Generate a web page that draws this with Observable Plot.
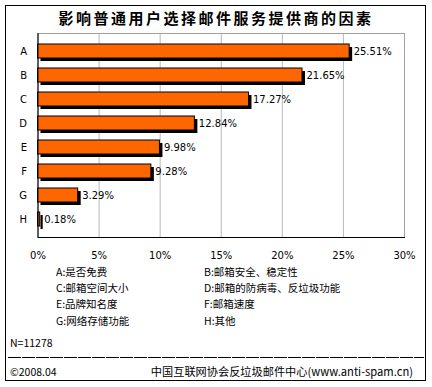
<!DOCTYPE html>
<html>
<head>
<meta charset="utf-8">
<script src="https://cdn.jsdelivr.net/npm/d3@7"></script>
<script src="https://cdn.jsdelivr.net/npm/@observablehq/plot@0.6"></script>
<style>
  html, body { margin: 0; padding: 0; background: #fff; }
  #wrap { position: relative; width: 432px; height: 387px; background: #fff; overflow: hidden;
          font-family: "DejaVu Sans", "Noto Sans CJK SC", sans-serif; color: #000; }
  #border { position: absolute; left: 5px; top: 5px; width: 419px; height: 374px; border: 1px solid #000; box-sizing: content-box; }
  #title { position: absolute; left: 0; width: 432px; top: 8px; text-align: center;
           font-family: "Noto Sans CJK SC", sans-serif; font-weight: bold; font-size: 15px; letter-spacing: 2.5px; line-height: 20px; }
  #chart { position: absolute; left: 0; top: 0; }
  .leg { position: absolute; font-family: "Noto Sans CJK SC", sans-serif; font-size: 10.5px; line-height: 14px; white-space: nowrap; }
  #sep { position: absolute; left: 8px; top: 357px; width: 416px; height: 1px;
         background: repeating-linear-gradient(to right, #000 0 13px, transparent 13px 14px); }
</style>
</head>
<body>
<div id="wrap">
  <div id="border"></div>
  <div id="chart"></div>
  <div id="title"></div>
  <div id="legend"></div>
  <div id="sep"></div>
</div>
<script>
const title = "影响普通用户选择邮件服务提供商的因素";
const categories = ["A", "B", "C", "D", "E", "F", "G", "H"];
const values = [25.51, 21.65, 17.27, 12.84, 9.98, 9.28, 3.29, 0.18];
const xTicks = [0, 5, 10, 15, 20, 25, 30];
const legendLabels = ["A:是否免费", "B:邮箱安全、稳定性", "C:邮箱空间大小", "D:邮箱的防病毒、反垃圾功能",
                      "E:品牌知名度", "F:邮箱速度", "G:网络存储功能", "H:其他"];
const sampleNote = "N=11278";
const dateNote = "©2008.04";
const sourceNote = "中国互联网协会反垃圾邮件中心(www.anti-spam.cn)";

const data = categories.map((c, i) => ({ cat: c, value: values[i], label: values[i].toFixed(2) + "%" }));

document.getElementById("title").textContent = title;

const chart = Plot.plot({
  width: 432,
  height: 262,
  marginLeft: 37.5,
  marginRight: 28,
  marginTop: 33,
  marginBottom: 25,
  style: { fontFamily: "DejaVu Sans, sans-serif", fontSize: "10px", background: "transparent", overflow: "visible" },
  x: { domain: [0, 30], ticks: xTicks, tickFormat: d => d + "%", tickSize: 0, tickPadding: 14, label: null },
  y: { domain: categories, padding: 0.4, tickSize: 0, tickPadding: 11, label: null },
  marks: [
    Plot.gridX(xTicks, { stroke: "#b8b8b8", strokeOpacity: 1 }),
    Plot.frame({ stroke: "#a0a0a0" }),
    Plot.barX(data, { x: "value", y: "cat", fill: "#000", dx: 3, dy: 3 }),
    Plot.barX(data, { x: "value", y: "cat", fill: "#ff6600", stroke: "#000", strokeWidth: 1 }),
    Plot.text(data, { x: "value", y: "cat", text: "label", textAnchor: "start", dx: 4, fill: "#000" }),
    Plot.ruleX([0], { stroke: "#000" }),
    Plot.frame({ anchor: "bottom", stroke: "#000" }),
    Plot.axisX({ ticks: xTicks, tickFormat: d => d + "%", tickSize: 0, tickPadding: 14, label: null }),
    Plot.axisY({ tickSize: 0, tickPadding: 11, label: null })
  ]
});
document.getElementById("chart").appendChild(chart);

const legend = document.getElementById("legend");
const legTops = [265, 281, 297, 314];
legendLabels.forEach((t, i) => {
  const d = document.createElement("div");
  d.className = "leg";
  d.textContent = t;
  d.style.left = (i % 2 === 0 ? 56 : 204) + "px";
  d.style.top = legTops[Math.floor(i / 2)] + "px";
  legend.appendChild(d);
});
function addNote(text, left, top, right, size) {
  const d = document.createElement("div");
  d.className = "leg";
  d.textContent = text;
  if (right != null) d.style.right = right + "px"; else d.style.left = left + "px";
  d.style.top = top + "px";
  if (size) d.style.fontSize = size + "px";
  legend.appendChild(d);
}
addNote(sampleNote, 10, 336);
addNote(dateNote, 10, 365);
addNote(sourceNote, null, 364, 19, 11.2);
</script>
</body>
</html>
